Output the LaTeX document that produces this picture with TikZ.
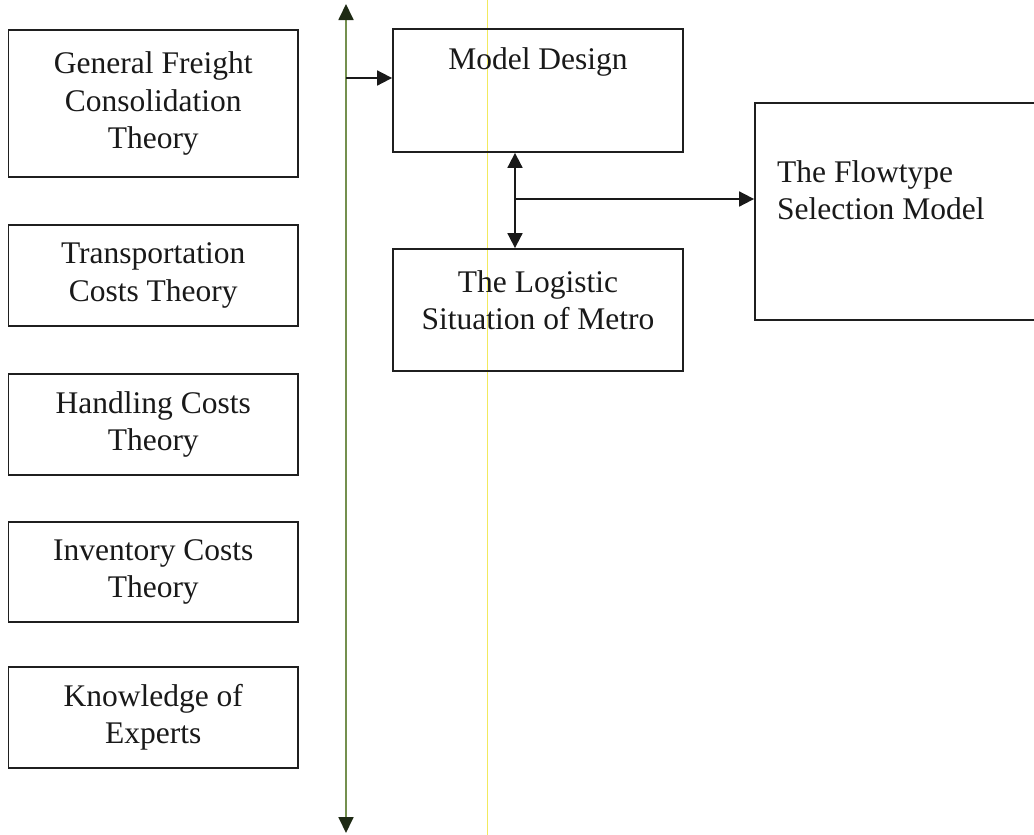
\documentclass[tikz,border=0pt]{standalone}
\usepackage{fontspec}
\setmainfont{Liberation Serif}
\usetikzlibrary{arrows.meta}
\definecolor{axisgreen}{HTML}{74904F}
\definecolor{tipdark}{HTML}{1E2A14}
\definecolor{guide}{HTML}{F2EA5E}
\begin{document}
\begin{tikzpicture}[x=1pt,y=-1pt,
  box/.style={draw=black!88, line width=1.8pt, inner sep=0pt, rectangle},
  lbl/.style={font=\fontsize{31.5}{37.5}\selectfont, align=center, inner sep=0pt, text=black!90},
  conn/.style={draw=black!90, line width=1.8pt},
  head/.style={-{Triangle[length=15pt,width=15pt]}},
  twohead/.style={{Triangle[length=15pt,width=15pt]}-{Triangle[length=15pt,width=15pt]}}]
\useasboundingbox (0,0) rectangle (1034,835);

% thin yellow guide line
\draw[guide, line width=1.8pt] (487.5,0) -- (487.5,835);

% theory boxes on the left
\node[box, minimum width=289.5pt, minimum height=147pt] (gfc) at (153.25,103.5) {};
\node[lbl] (gfct) at (gfc.center) {General Freight\\Consolidation\\Theory};
\node[box, minimum width=289.5pt, minimum height=101pt] (tct) at (153.25,275.5) {};
\node[lbl] (tctt) at (tct.center) {Transportation\\Costs Theory};
\node[box, minimum width=289.5pt, minimum height=101pt] (hct) at (153.25,424.5) {};
\node[lbl] (hctt) at (hct.center) {Handling Costs\\Theory};
\node[box, minimum width=289.5pt, minimum height=100pt] (ict) at (153.25,572) {};
\node[lbl] (ictt) at (ict.center) {Inventory Costs\\Theory};
\node[box, minimum width=289.5pt, minimum height=101pt] (koe) at (153.25,717.5) {};
\node[lbl] (koet) at (koe.center) {Knowledge of\\Experts};

% model boxes
\node[box, minimum width=290pt, minimum height=123pt] (md) at (538,90.5) {};
\node[lbl] (mdt) at (538,62) {Model Design};
\node[box, minimum width=290pt, minimum height=122pt] (ls) at (538,310) {};
\node[lbl] (lst) at (538,300) {The Logistic\\Situation of Metro};
\node[box, minimum width=285pt, minimum height=217pt] (ft) at (897.5,211.5) {};
\node[lbl, anchor=west, align=left] (ftt) at (777,190) {The Flowtype\\Selection Model};

% vertical axis with arrow heads at both ends
\coordinate (axtop) at (346,4);
\coordinate (axbot) at (346,833);
\draw[axisgreen, line width=1.8pt,
  {Triangle[length=16pt,width=15pt,color=tipdark]}-{Triangle[length=16pt,width=15pt,color=tipdark]}]
  (axtop) -- (axbot);

% connectors
\coordinate (tap) at (346,78);
\draw[conn, head] (tap) -- (tap -| md.west);
\coordinate (jx) at (515,0);
\draw[conn, twohead] (md.south -| jx) -- (ls.north -| jx);
\coordinate (br) at (515,199);
\draw[conn, head] (br) -- (br -| ft.west);
\end{tikzpicture}
\end{document}
